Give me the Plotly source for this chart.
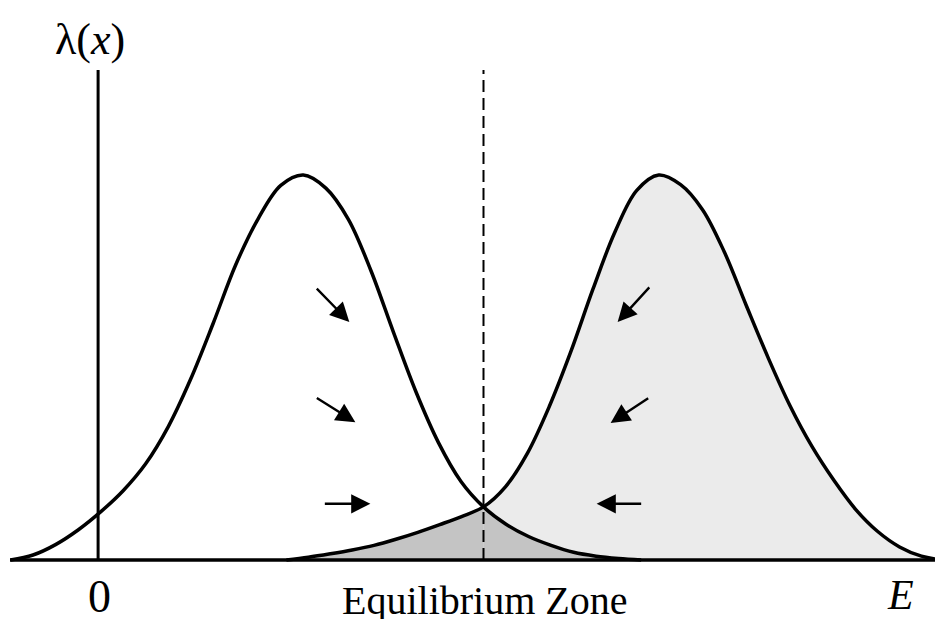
import plotly.graph_objects as go

# 左侧曲线 (读图得到的点, 等间距)
left_x = [-0.875, -0.65, -0.425, -0.2, 0.025, 0.25, 0.475, 0.7, 0.925, 1.15, 1.375, 1.6, 1.825, 2.05,
          2.275, 2.5, 2.725, 2.95, 3.175, 3.4, 3.625, 3.85, 4.075, 4.3, 4.525, 4.75, 4.975, 5.2, 5.425]
left_y = [0.0, 0.013, 0.040, 0.078, 0.125, 0.180, 0.250, 0.346, 0.470, 0.615, 0.767, 0.887, 0.973, 1.0,
          0.966, 0.885, 0.752, 0.592, 0.437, 0.305, 0.204, 0.138, 0.093, 0.061, 0.038, 0.020, 0.010, 0.004, 0.0]

# 右侧曲线
right_x = [1.881, 2.1, 2.319, 2.538, 2.756, 2.975, 3.194, 3.413, 3.631, 3.85, 4.069, 4.288, 4.506,
           4.725, 4.944, 5.163, 5.381, 5.6, 5.819, 6.038, 6.256, 6.475, 6.694, 6.913, 7.131, 7.35,
           7.569, 7.788, 8.006, 8.225, 8.444]
right_y = [0.0, 0.007, 0.016, 0.026, 0.038, 0.054, 0.072, 0.092, 0.113, 0.138, 0.190, 0.277, 0.398,
           0.543, 0.704, 0.852, 0.960, 1.0, 0.975, 0.910, 0.800, 0.661, 0.525, 0.400, 0.295, 0.207,
           0.131, 0.074, 0.034, 0.010, 0.0]

cross_x = 3.85
axis_top = 1.273

# arrows: (tail x, tail y, head x, head y)
arrows_left = [(2.17, 0.709, 2.51, 0.618), (2.17, 0.423, 2.57, 0.358), (2.25, 0.146, 2.72, 0.146)]
arrows_right = [(5.52, 0.712, 5.19, 0.618), (5.51, 0.423, 5.12, 0.356), (5.44, 0.146, 4.98, 0.146)]

fig = go.Figure()

fig.add_trace(go.Scatter(x=right_x, y=right_y, mode='lines', line=dict(shape='spline', width=0),
                         fill='tozeroy', fillcolor='#ebebeb', hoverinfo='skip'))

# overlap zone
ov1 = [(a, b) for a, b in zip(right_x, right_y) if a <= cross_x]
ov2 = [(a, b) for a, b in zip(left_x, left_y) if a >= cross_x]
for pts in [ov1, ov2]:
    fig.add_trace(go.Scatter(x=[p[0] for p in pts], y=[p[1] for p in pts], mode='lines',
                             line=dict(shape='spline', width=0), fill='tozeroy', fillcolor='#c4c4c4',
                             hoverinfo='skip'))

for xs, ys in [(left_x, left_y), (right_x, right_y)]:
    fig.add_trace(go.Scatter(x=xs, y=ys, mode='lines', line=dict(shape='spline', color='black', width=3.5)))

# axes
fig.add_shape(type='line', x0=-0.88, x1=8.44, y0=0, y1=0, line=dict(color='black', width=3.5))
fig.add_shape(type='line', x0=0, x1=0, y0=0, y1=axis_top, line=dict(color='black', width=3))
fig.add_shape(type='line', x0=cross_x, x1=cross_x, y0=0, y1=axis_top,
              line=dict(color='black', width=2, dash='12px,6px'))

for tx, ty, hx, hy in arrows_left + arrows_right:
    fig.add_annotation(x=hx, y=hy, ax=tx, ay=ty, xref='x', yref='y', axref='x', ayref='y', text='',
                       showarrow=True, arrowhead=2, arrowsize=1.6, arrowwidth=2.4, arrowcolor='black')

fig.add_annotation(x=-0.08, y=1.351, text='λ(<i>x</i>)', showarrow=False,
                   font=dict(family='Liberation Serif', size=44, color='black'))
fig.add_annotation(x=0.01, y=-0.094, text='0', showarrow=False,
                   font=dict(family='Liberation Serif', size=46, color='black'))
fig.add_annotation(x=3.86, y=-0.105, text='Equilibrium Zone', showarrow=False,
                   font=dict(family='Liberation Serif', size=40, color='black'))
fig.add_annotation(x=8.02, y=-0.09, text='<i>E</i>', showarrow=False,
                   font=dict(family='Liberation Serif', size=42, color='black'))

# 页面body有8px边距, 范围相应平移
fig.update_layout(width=943, height=619, margin=dict(l=0, r=0, t=0, b=0), showlegend=False,
                  plot_bgcolor='white', paper_bgcolor='white',
                  xaxis=dict(visible=False, range=[-0.90, 8.52]),
                  yaxis=dict(visible=False, range=[-0.174, 1.4338]))

fig.write_html("out.html")
